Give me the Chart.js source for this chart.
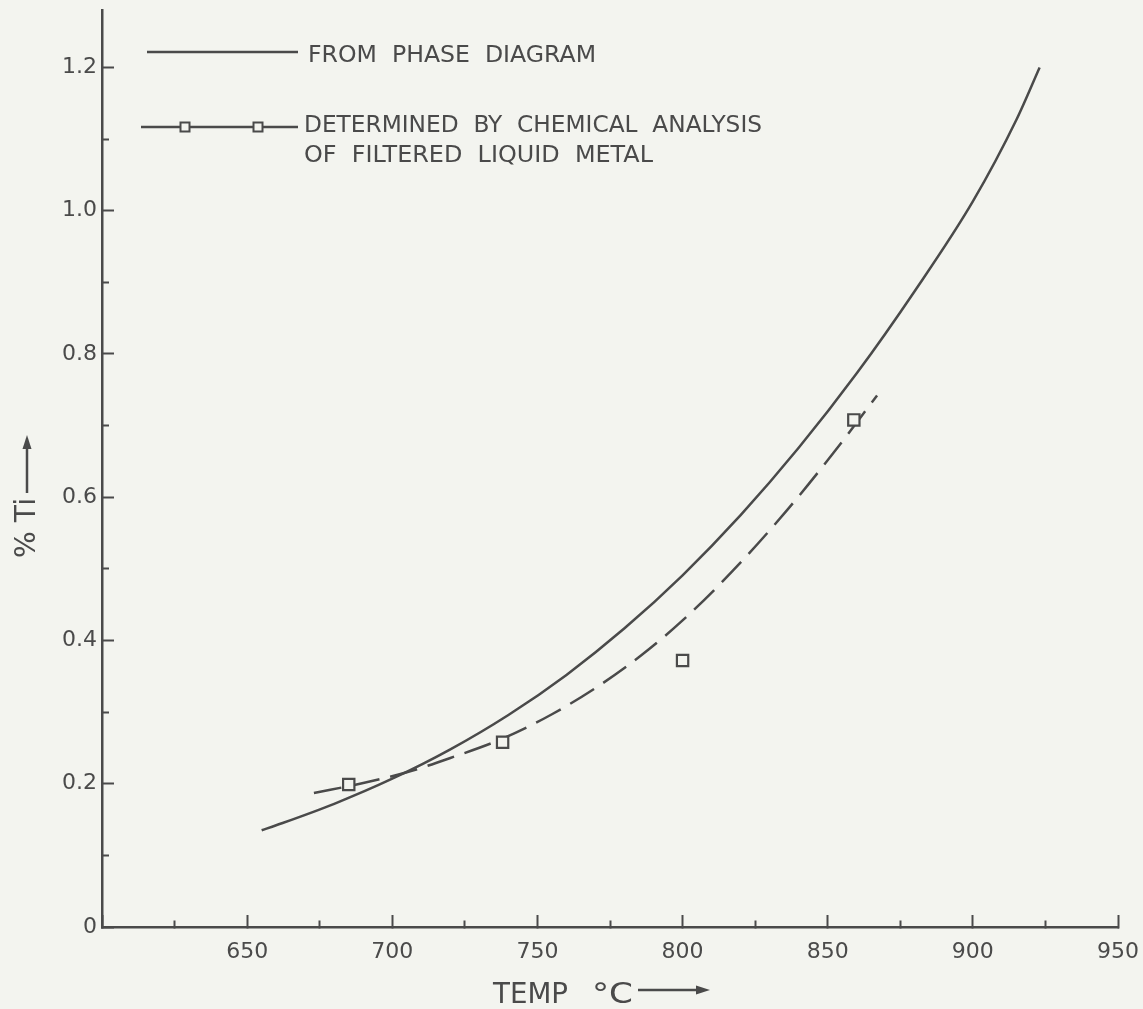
<!DOCTYPE html>
<html>
<head>
<meta charset="utf-8">
<script src="https://cdn.jsdelivr.net/npm/chart.js@4.4.0/dist/chart.umd.min.js"></script>
<style>
  body { margin: 0; background: #f3f4ef; }
  canvas { display: block; }
</style>
</head>
<body>
<canvas id="grafica" width="1143" height="1009"></canvas>
<script>
// curva del diagrama de fases (T en °C, % Ti)
var tempFase = [655, 660, 680, 700, 720, 740, 760, 780, 800, 820, 840, 860, 880, 900, 915, 923];
var tiFase   = [0.135, 0.142, 0.172, 0.207, 0.248, 0.296, 0.352, 0.417, 0.491, 0.575, 0.669, 0.773, 0.888, 1.013, 1.127, 1.200];

// curva a trazos por los puntos medidos
var tempAjuste = [673, 690, 705, 720, 738, 755, 772, 786, 800, 817, 836, 852, 867];
var tiAjuste   = [0.187, 0.201, 0.216, 0.236, 0.263, 0.297, 0.339, 0.380, 0.428, 0.496, 0.582, 0.662, 0.742];

// analisis quimico del metal liquido filtrado
var tempAnalisis = [685, 738, 800, 859];
var tiAnalisis   = [0.199, 0.258, 0.372, 0.708];

// marcas con rotulo
var ticksX = [650, 700, 750, 800, 850, 900, 950];
var ticksY = [0, 0.2, 0.4, 0.6, 0.8, 1.0, 1.2];
var etiquetasY = ['0', '0.2', '0.4', '0.6', '0.8', '1.0', '1.2'];

var tinta = '#4a4a4a';
var fondo = '#f3f4ef';
var letra = 'DejaVu Sans';

function pares(xs, ys) {
  return xs.map(function (x, i) { return { x: x, y: ys[i] }; });
}

function esMayorX(v) { return ticksX.indexOf(v) >= 0; }
function indiceY(v) {
  for (var i = 0; i < ticksY.length; i++) {
    if (Math.abs(ticksY[i] - v) < 1e-6) return i;
  }
  return -1;
}

// texto ajustado a un ancho dado
function texto(ctx, s, x, y, ancho, tam) {
  ctx.font = tam + 'px "' + letra + '"';
  var w = ctx.measureText(s).width;
  ctx.save();
  ctx.translate(x, y);
  ctx.scale(ancho / w, 1);
  ctx.textAlign = 'left';
  ctx.textBaseline = 'alphabetic';
  ctx.fillText(s, 0, 0);
  ctx.restore();
}

function linea(ctx, x1, y1, x2, y2) {
  ctx.beginPath();
  ctx.moveTo(x1, y1);
  ctx.lineTo(x2, y2);
  ctx.stroke();
}

function cuadro(ctx, x, y, lado) {
  ctx.fillStyle = fondo;
  ctx.fillRect(x - lado / 2, y - lado / 2, lado, lado);
  ctx.strokeRect(x - lado / 2, y - lado / 2, lado, lado);
  ctx.fillStyle = tinta;
}

function flecha(ctx, x1, y1, x2, y2) {
  var ang = Math.atan2(y2 - y1, x2 - x1);
  var largo = 14, media = 4.5;
  var bx = x2 - largo * Math.cos(ang), by = y2 - largo * Math.sin(ang);
  linea(ctx, x1, y1, bx, by);
  ctx.beginPath();
  ctx.moveTo(x2, y2);
  ctx.lineTo(bx + media * Math.sin(ang), by - media * Math.cos(ang));
  ctx.lineTo(bx - media * Math.sin(ang), by + media * Math.cos(ang));
  ctx.closePath();
  ctx.fill();
}

var rotulos = {
  id: 'rotulos',
  afterDraw: function (chart) {
    var ctx = chart.ctx;
    ctx.save();
    ctx.strokeStyle = tinta;
    ctx.fillStyle = tinta;
    ctx.lineWidth = 2.5;

    // leyenda
    linea(ctx, 147, 52, 298, 52);
    texto(ctx, 'FROM  PHASE  DIAGRAM', 308, 61.5, 288, 23);
    linea(ctx, 141, 127, 298, 127);
    ctx.lineWidth = 2;
    cuadro(ctx, 185, 127, 9);
    cuadro(ctx, 258, 127, 9);
    ctx.lineWidth = 2.5;
    texto(ctx, 'DETERMINED  BY  CHEMICAL  ANALYSIS', 304, 131.5, 458, 23);
    texto(ctx, 'OF  FILTERED  LIQUID  METAL', 304, 161.5, 349, 23);

    // titulo eje x
    texto(ctx, 'TEMP', 493, 1003, 75, 29);
    texto(ctx, '°C', 592, 1003, 41, 29);
    flecha(ctx, 638, 990, 710, 990);

    // titulo eje y (girado)
    ctx.save();
    ctx.translate(35, 558);
    ctx.rotate(-Math.PI / 2);
    texto(ctx, '% Ti', 0, 0, 60, 28);
    ctx.restore();
    flecha(ctx, 27, 493, 27, 435);

    ctx.restore();
  }
};

var grafica = new Chart(document.getElementById('grafica'), {
  type: 'line',
  data: {
    datasets: [
      {
        label: 'DETERMINED BY CHEMICAL ANALYSIS OF FILTERED LIQUID METAL',
        data: pares(tempAnalisis, tiAnalisis),
        showLine: false,
        pointStyle: 'rect',
        pointRadius: 8,
        pointBorderWidth: 2.2,
        pointBorderColor: tinta,
        pointBackgroundColor: fondo,
        order: 0
      },
      {
        label: 'ajuste',
        data: pares(tempAjuste, tiAjuste),
        borderColor: tinta,
        borderWidth: 2.5,
        borderDash: [28, 11],
        pointRadius: 0,
        cubicInterpolationMode: 'monotone',
        order: 1
      },
      {
        label: 'FROM PHASE DIAGRAM',
        data: pares(tempFase, tiFase),
        borderColor: tinta,
        borderWidth: 2.5,
        pointRadius: 0,
        cubicInterpolationMode: 'monotone',
        order: 2
      }
    ]
  },
  options: {
    responsive: false,
    animation: false,
    devicePixelRatio: 1,
    layout: { padding: { top: 5, right: 25, left: 0, bottom: 0 } },
    plugins: { legend: { display: false }, tooltip: { enabled: false } },
    scales: {
      x: {
        type: 'linear',
        min: 600,
        max: 950,
        afterFit: function (s) { s.height = 82; s.paddingLeft = 0; s.paddingRight = 0; },
        border: { display: true, color: tinta, width: 2.5 },
        grid: {
          drawOnChartArea: false,
          drawTicks: true,
          tickLength: -12,
          tickWidth: 2,
          tickColor: tinta,
          tickBorderDash: function (c) { return esMayorX(c.tick.value) || c.tick.value === 600 ? [] : [8, 50]; }
        },
        ticks: {
          stepSize: 25,
          padding: 24,
          color: tinta,
          font: { family: letra, size: 22 },
          maxRotation: 0,
          autoSkip: false,
          callback: function (v) { return esMayorX(v) ? String(v) : ''; }
        }
      },
      y: {
        type: 'linear',
        min: 0,
        max: 1.28,
        afterFit: function (s) { s.width = 102; s.paddingTop = 0; s.paddingBottom = 0; },
        border: { display: true, color: tinta, width: 2.5 },
        grid: {
          drawOnChartArea: false,
          drawTicks: true,
          tickLength: -12,
          tickWidth: 2,
          tickColor: tinta,
          tickBorderDash: function (c) { return indiceY(c.tick.value) >= 0 ? [] : [0, 5, 30, 0]; }
        },
        ticks: {
          stepSize: 0.1,
          includeBounds: false,
          padding: 17,
          color: tinta,
          font: { family: letra, size: 22 },
          autoSkip: false,
          callback: function (v) { var i = indiceY(v); return i >= 0 ? etiquetasY[i] : ''; }
        }
      }
    }
  },
  plugins: [rotulos]
});
</script>
</body>
</html>
